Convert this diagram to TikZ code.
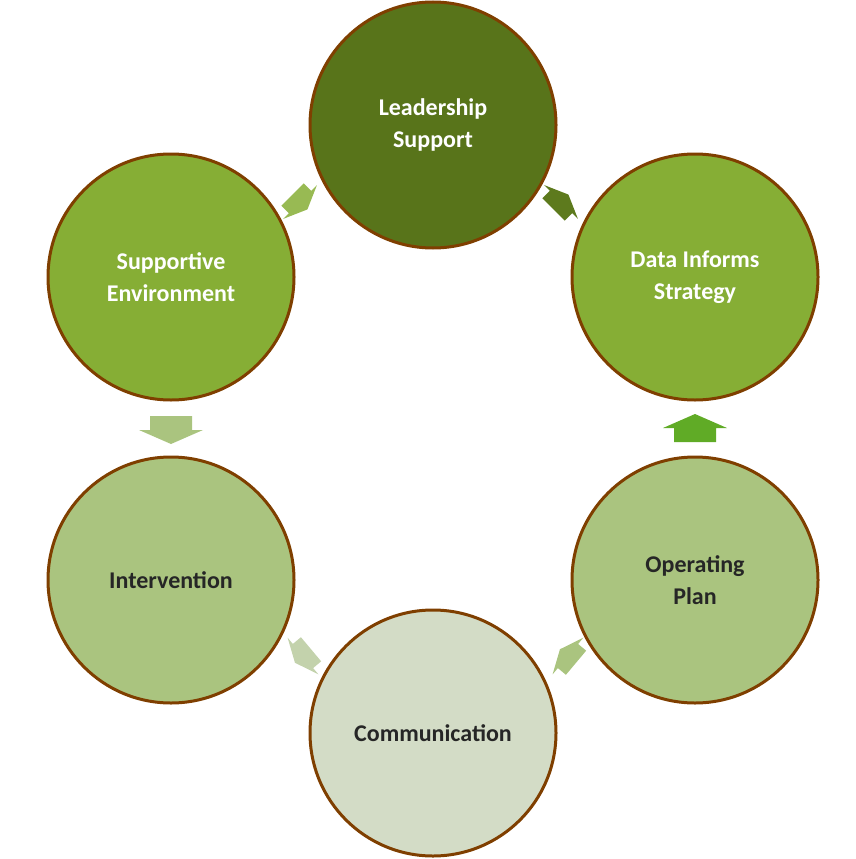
\documentclass[tikz,border=0pt]{standalone}
\usepackage{fontspec}
\setmainfont{Carlito}
\definecolor{cA}{HTML}{58741A}
\definecolor{cB}{HTML}{86AE35}
\definecolor{cC}{HTML}{AAC47F}
\definecolor{cD}{HTML}{D3DCC6}
\definecolor{cE}{HTML}{C3D2AC}
\definecolor{brd}{HTML}{7F3F00}
\begin{document}
\begin{tikzpicture}[x=1pt,y=-1pt,
  circ/.style={circle,draw=brd,line width=3pt,minimum size=246pt,inner sep=0pt,align=center,font=\bfseries\fontsize{24}{32}\selectfont},
  lt/.style={circ,text=white},
  dk/.style={circ,text=black!85},
  blk/.pic={\fill[#1] (-14,-21) -- (0,-21) -- (0,-32) -- (14,0) -- (0,32) -- (0,21) -- (-14,21) -- cycle;}]
\useasboundingbox (0,0) rectangle (855,859);
\node[lt,fill=cA] (lead) at (433,125) {Leadership\\Support};
\node[lt,fill=cB] (data) at (695,277) {Data Informs\\Strategy};
\node[dk,fill=cC] (op) at (695,580) {Operating\\Plan};
\node[dk,fill=cD] (comm) at (433,733) {Communication};
\node[dk,fill=cC] (int) at (171,580) {Intervention};
\node[lt,fill=cB] (sup) at (171,277) {Supportive\\Environment};
\pic[rotate=45,scale=0.75] (a1) at (561,202) {blk=cA!90!cB};
\pic[rotate=90] (a2) at (695,428) {blk=cB!80!green!90!black};
\pic[rotate=140,scale=0.75] (a3) at (568,656) {blk=cC};
\pic[rotate=220,scale=0.75] (a4) at (303,656) {blk=cE};
\pic[rotate=270] (a5) at (171,430) {blk=cC};
\pic[rotate=315,scale=0.75] (a6) at (300,202) {blk=cB!85!white};
\end{tikzpicture}
\end{document}
